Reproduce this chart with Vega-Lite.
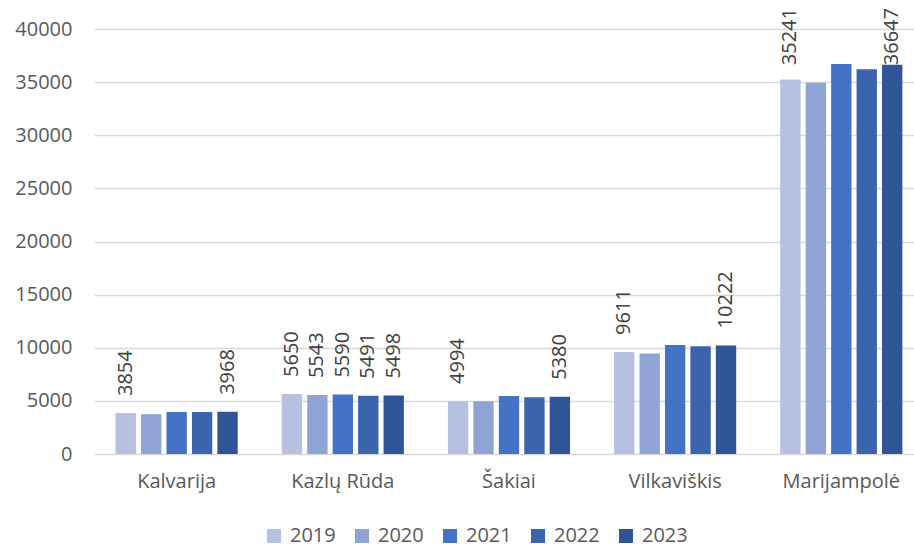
{
  "$schema": "https://vega.github.io/schema/vega-lite/v6.json",
  "width": 820,
  "height": 425,
  "autosize": {"type": "none"},
  "padding": {"left": 94, "top": 29, "right": 0, "bottom": 93},
  "background": "white",
  "config": {"view": {"stroke": null}, "font": "Open Sans"},
  "data": {
    "values": [
      {"region": "Kalvarija", "year": "2019", "value": 3854},
      {"region": "Kalvarija", "year": "2020", "value": 3750},
      {"region": "Kalvarija", "year": "2021", "value": 3960},
      {"region": "Kalvarija", "year": "2022", "value": 3955},
      {"region": "Kalvarija", "year": "2023", "value": 3968},
      {"region": "Kazlų Rūda", "year": "2019", "value": 5650},
      {"region": "Kazlų Rūda", "year": "2020", "value": 5543},
      {"region": "Kazlų Rūda", "year": "2021", "value": 5590},
      {"region": "Kazlų Rūda", "year": "2022", "value": 5491},
      {"region": "Kazlų Rūda", "year": "2023", "value": 5498},
      {"region": "Šakiai", "year": "2019", "value": 4994},
      {"region": "Šakiai", "year": "2020", "value": 4975},
      {"region": "Šakiai", "year": "2021", "value": 5450},
      {"region": "Šakiai", "year": "2022", "value": 5340},
      {"region": "Šakiai", "year": "2023", "value": 5380},
      {"region": "Vilkaviškis", "year": "2019", "value": 9611},
      {"region": "Vilkaviškis", "year": "2020", "value": 9470},
      {"region": "Vilkaviškis", "year": "2021", "value": 10260},
      {"region": "Vilkaviškis", "year": "2022", "value": 10140},
      {"region": "Vilkaviškis", "year": "2023", "value": 10222},
      {"region": "Marijampolė", "year": "2019", "value": 35241},
      {"region": "Marijampolė", "year": "2020", "value": 34950},
      {"region": "Marijampolė", "year": "2021", "value": 36700},
      {"region": "Marijampolė", "year": "2022", "value": 36220},
      {"region": "Marijampolė", "year": "2023", "value": 36647}
    ]
  },
  "encoding": {
    "x": {
      "field": "region",
      "type": "nominal",
      "sort": ["Kalvarija", "Kazlų Rūda", "Šakiai", "Vilkaviškis", "Marijampolė"],
      "scale": {"paddingInner": 0.265, "paddingOuter": 0.1, "align": 0.65},
      "axis": {
        "title": null,
        "labelAngle": 0,
        "labelFontSize": 20,
        "labelColor": "#595959",
        "labelPadding": 17,
        "ticks": false,
        "tickSize": 0,
        "domain": false
      }
    },
    "xOffset": {
      "field": "year",
      "type": "nominal",
      "scale": {"paddingInner": 0.2, "paddingOuter": 0}
    }
  },
  "layer": [
    {
      "mark": {"type": "bar"},
      "encoding": {
        "y": {
          "field": "value",
          "type": "quantitative",
          "scale": {"domain": [0, 40000], "nice": false},
          "axis": {
            "title": null,
            "format": "d",
            "values": [0, 5000, 10000, 15000, 20000, 25000, 30000, 35000, 40000],
            "labelFontSize": 20,
            "labelColor": "#595959",
            "labelPadding": 22,
            "ticks": false,
            "tickSize": 0,
            "domain": false,
            "grid": true,
            "gridColor": "#D9D9D9",
            "gridWidth": 1.4
          }
        },
        "color": {
          "field": "year",
          "type": "nominal",
          "scale": {
            "domain": ["2019", "2020", "2021", "2022", "2023"],
            "range": ["#B6C1E2", "#8FA4D5", "#4472C4", "#3B64AD", "#2F5597"]
          },
          "legend": {
            "title": null,
            "orient": "none",
            "direction": "horizontal",
            "legendX": 170,
            "legendY": 497,
            "symbolType": "square",
            "symbolSize": 196,
            "symbolStrokeWidth": 0,
            "labelFontSize": 20,
            "labelColor": "#595959",
            "labelOffset": 6,
            "columnPadding": 16
          }
        }
      }
    },
    {
      "transform": [
        {"filter": "datum.value < 30000 && (datum.region == 'Kazlų Rūda' || datum.year == '2019' || datum.year == '2023')"}
      ],
      "mark": {
        "type": "text",
        "angle": -90,
        "align": "left",
        "baseline": "middle",
        "dx": 17,
        "fontSize": 20,
        "color": "#404040"
      },
      "encoding": {
        "y": {"field": "value", "type": "quantitative"},
        "text": {"field": "value", "type": "quantitative", "format": "d"}
      }
    },
    {
      "transform": [
        {"filter": "datum.value >= 30000 && (datum.year == '2019' || datum.year == '2023')"}
      ],
      "mark": {
        "type": "text",
        "angle": -90,
        "align": "right",
        "baseline": "middle",
        "dx": 21,
        "fontSize": 20,
        "color": "#404040"
      },
      "encoding": {
        "y": {"datum": 40000, "type": "quantitative"},
        "text": {"field": "value", "type": "quantitative", "format": "d"}
      }
    }
  ]
}
